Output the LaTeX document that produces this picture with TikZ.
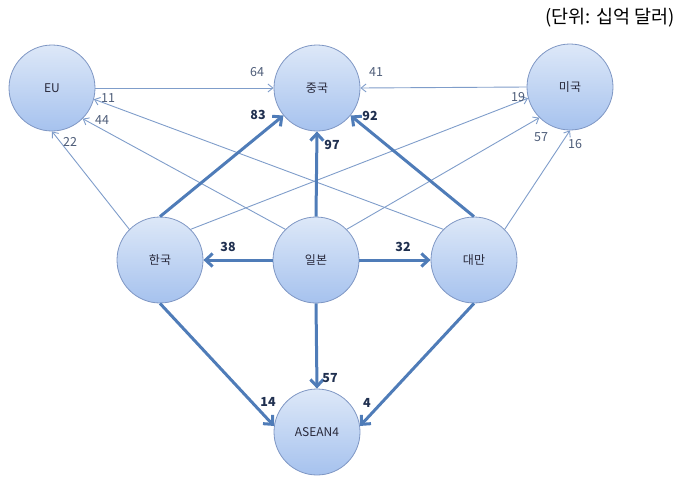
\documentclass[tikz,border=0pt]{standalone}
\usepackage{fontspec}
\setmainfont{Noto Sans CJK KR}
\usetikzlibrary{arrows.meta}
\definecolor{thinc}{HTML}{7F9DCA}
\definecolor{thickc}{HTML}{4F7CB8}
\definecolor{thinlab}{HTML}{4D5C78}
\definecolor{thicklab}{HTML}{1F2F4F}
\definecolor{rimc}{HTML}{7F97C4}
\definecolor{topc}{HTML}{DDE8F8}
\definecolor{botc}{HTML}{A6C2EE}
\definecolor{textc}{HTML}{28283A}
\tikzset{
  country/.style={circle, minimum size=86pt, inner sep=0pt, draw=rimc, line width=0.8pt,
    top color=topc, bottom color=botc,
    font=\fontsize{12}{14}\selectfont, text=textc},
  thin/.style={draw=thinc, line width=0.9pt, -{Straight Barb[length=5pt,width=8pt]}},
  thick/.style={draw=thickc, line width=3pt, -{Straight Barb[length=7pt,width=13pt]}},
  tlab/.style={text=thinlab, font=\fontsize{12.5}{14}\selectfont, inner sep=0pt},
  blab/.style={text=thicklab, font=\fontsize{12.5}{14}\selectfont\bfseries, inner sep=0pt},
}
\begin{document}
\begin{tikzpicture}[x=1pt,y=-1pt]
\useasboundingbox (0,0) rectangle (678,477);
\node[country] (eu) at (52,88) {EU};
\node[country] (cn) at (317,88) {중국};
\node[country] (us) at (570,87) {미국};
\node[country] (kr) at (160,260) {한국};
\node[country] (jp) at (316,260) {일본};
\node[country] (tw) at (474,260) {대만};
\node[country] (as) at (317,432) {ASEAN4};
% thin edges
\draw[thin] (eu.east) -- (cn.west);
\draw[thin] (us.west) -- (cn.east);
\draw[thin] (kr.135) -- (eu.south);
\draw[thin] (jp.135) -- (eu.-45);
\draw[thin] (tw.135) -- (eu.-15);
\draw[thin] (kr.45) -- (us.195);
\draw[thin] (jp.45) -- (us.225);
\draw[thin] (tw.45) -- (us.south);
% thick edges
\draw[thick] (kr.north) -- (cn);
\draw[thick] (tw.north) -- (cn);
\draw[thick] (jp.north) -- (cn.south);
\draw[thick] (jp.west) -- (kr.east);
\draw[thick] (jp.east) -- (tw.west);
\draw[thick] (kr.south) -- (as.172);
\draw[thick] (jp.south) -- (as.north);
\draw[thick] (tw.south) -- (as.8);
% labels
\node[tlab] (l64) at (257,72) {64};
\node[tlab] (l41) at (376,72) {41};
\node[tlab] (l11) at (108,98) {11};
\node[tlab] (l44) at (102,120) {44};
\node[tlab] (l22) at (70,142) {22};
\node[tlab] (l19) at (518,97) {19};
\node[tlab] (l57a) at (541,137) {57};
\node[tlab] (l16) at (575,144) {16};
\node[blab] (l83) at (258,115) {83};
\node[blab] (l97) at (332,145) {97};
\node[blab] (l92) at (370,116) {92};
\node[blab] (l38) at (228,247) {38};
\node[blab] (l32) at (403,247) {32};
\node[blab] (l57b) at (330,378) {57};
\node[blab] (l14) at (268,402) {14};
\node[blab] (l4) at (367,403) {4};
\node[font=\fontsize{18.5}{20}\selectfont, text=black, inner sep=0pt, anchor=east] (unit) at (675,18) {(단위: 십억 달러)};
\end{tikzpicture}
\end{document}
